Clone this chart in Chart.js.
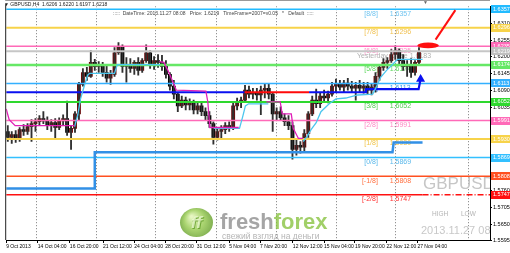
<!DOCTYPE html>
<html>
<head>
<meta charset="utf-8">
<script src="https://cdn.jsdelivr.net/npm/chart.js@4.4.0/dist/chart.umd.min.js"></script>
<style>
  html, body { margin: 0; padding: 0; background: #fff; }
  canvas { display: block; }
</style>
</head>
<body>
<canvas id="chart" width="510" height="253"></canvas>
<script>
// GBPUSD candles (one slot = 2 H4 bars)
const opens = [
  1.5955,1.5935,1.5945,1.5929,1.5961,1.5955,1.5971,1.5981,1.5987,1.5997,
  1.5990,1.5974,1.5984,1.5968,1.5990,1.5997,1.5952,1.5965,1.6013,1.6110,
  1.6149,1.6136,1.6182,1.6169,1.6175,1.6149,1.6130,1.6143,1.6214,1.6234,
  1.6169,1.6175,1.6162,1.6182,1.6156,1.6188,1.6214,1.6175,1.6188,1.6182,
  1.6169,1.6143,1.6104,1.6078,1.6039,1.6058,1.6042,1.6052,1.6026,1.6039,
  1.6020,1.6007,1.5981,1.5935,1.5955,1.5961,1.5974,1.5968,1.6039,1.6052,
  1.6058,1.6091,1.6078,1.6084,1.6075,1.6091,1.6097,1.6078,1.6013,1.6020,
  1.6000,1.5987,1.5974,1.5896,1.5909,1.5903,1.5948,1.6013,1.6058,1.6046,
  1.6071,1.6065,1.6078,1.6104,1.6110,1.6101,1.6114,1.6104,1.6097,1.6107,
  1.6097,1.6104,1.6091,1.6101,1.6136,1.6166,1.6182,1.6188,1.6208,1.6221,
  1.6188,1.6169,1.6175,1.6149,1.6182
];
const highs = [
  1.5974,1.5955,1.5958,1.5968,1.5978,1.5981,1.5994,1.5997,1.6007,1.6020,
  1.6003,1.5994,1.5997,1.6000,1.6010,1.6055,1.5974,1.6020,1.6117,1.6162,
  1.6166,1.6221,1.6192,1.6185,1.6182,1.6169,1.6156,1.6231,1.6247,1.6240,
  1.6198,1.6195,1.6188,1.6198,1.6195,1.6240,1.6221,1.6201,1.6208,1.6205,
  1.6188,1.6149,1.6123,1.6084,1.6071,1.6068,1.6062,1.6058,1.6049,1.6049,
  1.6033,1.6020,1.5987,1.5968,1.5974,1.5984,1.5987,1.6052,1.6065,1.6068,
  1.6107,1.6104,1.6097,1.6097,1.6104,1.6110,1.6110,1.6084,1.6033,1.6036,
  1.6013,1.6007,1.5987,1.5929,1.5922,1.5961,1.6020,1.6071,1.6094,1.6084,
  1.6091,1.6088,1.6117,1.6127,1.6123,1.6123,1.6130,1.6120,1.6117,1.6123,
  1.6117,1.6117,1.6110,1.6149,1.6175,1.6195,1.6198,1.6224,1.6237,1.6227,
  1.6208,1.6188,1.6195,1.6188,1.6231
];
const lows = [
  1.5922,1.5916,1.5919,1.5922,1.5942,1.5945,1.5922,1.5955,1.5974,1.5981,
  1.5961,1.5955,1.5932,1.5961,1.5974,1.5942,1.5896,1.5952,1.5994,1.6104,
  1.6123,1.6133,1.6156,1.6149,1.6136,1.6117,1.6110,1.6136,1.6208,1.6149,
  1.6117,1.6149,1.6143,1.6140,1.6149,1.6182,1.6162,1.6159,1.6166,1.6156,
  1.6130,1.6091,1.6062,1.6020,1.6033,1.6026,1.6026,1.6013,1.6013,1.6007,
  1.5994,1.5968,1.5913,1.5926,1.5932,1.5948,1.5955,1.5961,1.6026,1.6033,
  1.6052,1.6065,1.6062,1.6058,1.6010,1.6065,1.6062,1.5955,1.5994,1.5994,
  1.5974,1.5961,1.5864,1.5877,1.5884,1.5890,1.5935,1.6007,1.6033,1.6033,
  1.6052,1.6049,1.6071,1.6084,1.6091,1.6084,1.6091,1.6084,1.6058,1.6084,
  1.6081,1.6078,1.6075,1.6084,1.6123,1.6156,1.6162,1.6182,1.6192,1.6175,
  1.6156,1.6136,1.6133,1.6140,1.6175
];
const closes = [
  1.5935,1.5945,1.5929,1.5961,1.5955,1.5971,1.5981,1.5987,1.5997,1.5990,
  1.5974,1.5984,1.5968,1.5990,1.5997,1.5952,1.5965,1.6013,1.6110,1.6149,
  1.6136,1.6182,1.6169,1.6175,1.6149,1.6130,1.6143,1.6214,1.6234,1.6169,
  1.6175,1.6162,1.6182,1.6156,1.6188,1.6214,1.6175,1.6188,1.6182,1.6169,
  1.6143,1.6104,1.6078,1.6039,1.6058,1.6042,1.6052,1.6026,1.6039,1.6020,
  1.6007,1.5981,1.5935,1.5955,1.5961,1.5974,1.5968,1.6039,1.6052,1.6058,
  1.6091,1.6078,1.6084,1.6075,1.6091,1.6097,1.6078,1.6013,1.6020,1.6000,
  1.5987,1.5974,1.5896,1.5909,1.5903,1.5948,1.6013,1.6058,1.6046,1.6071,
  1.6065,1.6078,1.6104,1.6110,1.6101,1.6114,1.6104,1.6097,1.6107,1.6097,
  1.6104,1.6091,1.6101,1.6136,1.6166,1.6182,1.6188,1.6208,1.6221,1.6188,
  1.6169,1.6175,1.6149,1.6182,1.6218
];

// Murrey math levels
const levelNames = ['[8/8]','[7/8]','[6/8]','[5/8]','[4/8]','[3/8]','[2/8]','[1/8]','[0/8]','[-1/8]','[-2/8]'];
const levelValues = [1.6357,1.6296,1.6235,1.6174,1.6113,1.6052,1.5991,1.5930,1.5869,1.5808,1.5747];
const bidPrice = 1.6219;
const yesterdayClose = 1.6183;

// trailing stop lines, [slot, price] corners
const magentaStops = [
  [[-0.4,1.6029],[0.35,1.5994],[1.86,1.5974],[16.9,1.5974]],
  [[38.3,1.6185],[39.5,1.6182],[40.5,1.6156],[41.6,1.6123],[42.6,1.6091],[50.1,1.6088],[50.6,1.6052],[51.1,1.5968],[58.4,1.5968]],
  [[65.4,1.6052],[68.9,1.6052],[69.4,1.6013],[71.7,1.6013],[72.2,1.5965],[73.5,1.5932],[74.7,1.5932]]
];
const cyanStops = [
  [[16.9,1.5971],[17.7,1.6010],[18.4,1.6062],[19.4,1.6107],[20.2,1.6140],[20.7,1.6146],[27.0,1.6146],[27.7,1.6175],[38.5,1.6175]],
  [[52.1,1.5965],[58.6,1.5965],[59.4,1.6003],[60.1,1.6039],[60.9,1.6046],[65.9,1.6046]],
  [[74.7,1.5922],[75.7,1.5939],[76.7,1.5961],[78.0,1.5984],[79.2,1.6020],[81.3,1.6046],[83.0,1.6062],[85.5,1.6065],
   [88.5,1.6075],[92.3,1.6078],[93.3,1.6104],[94.3,1.6133],[95.8,1.6156],[97.3,1.6175],[98.6,1.6192],[104.9,1.6192]]
];
const pivotLine = [[-0.4,1.6084],[59.9,1.6084],[76.2,1.6084],[90.6,1.6084],[90.6,1.6094],[103.9,1.6094],[104.4,1.6127]];
const supportStep = [[-0.4,1.5767],[22.0,1.5767],[22.0,1.5887],[97.3,1.5887],[97.6,1.5919],[104.9,1.5919]];
const arrowLine = [[108.2,1.6257],[113.2,1.6354]];
const markEllipse = [106.3, 1.6238];

// axes
const priceTicks = [1.5595,1.5650,1.5705,1.5760,1.5815,1.5870,1.5925,1.5980,1.6035,1.6090,1.6145,1.6200,1.6255,1.6310];
const timeTicks = [-0.4,7.6,15.7,24.1,32,39.8,47.8,56,63.8,72.1,80,87.8,95.8,103.6];
const timeLabels = ['9 Oct 2013','14 Oct 04:00','16 Oct 20:00','21 Oct 12:00','24 Oct 04:00','28 Oct 20:00',
  '31 Oct 12:00','5 Nov 04:00','7 Nov 20:00','12 Nov 12:00','15 Nov 04:00','19 Nov 20:00','22 Nov 12:00','27 Nov 04:00'];
const weekLines = [7.1, 22.2, 37.3, 52.6, 67.9, 83, 98, 116.4];

const X_MIN = -0.4, X_MAX = 121.96, LAST = 104.9;
const FONT = '"Liberation Sans", Arial, sans-serif';

const lineColors = ['#22bbff','#f7d34a','#ff6ab8','#66e866','#33b0ff','#2ed82e','#ff6ab8','#f7d34a','#33c0ff','#ff5020','#ff1010'];
const textColors = ['#70c4f0','#f0c050','#ff90c8','#60d860','#3a9ae8','#50cc50','#ff88c4','#f0c448','#5ab8ea','#ff7040','#ff3030'];
const lineWidths = [1.5,2,1.5,2.5,1.5,2,1.5,2,1.5,1.5,1.5];

const pts = arr => arr.map(p => ({x: p[0], y: p[1]}));

const datasets = [];

// indicator lines on top
magentaStops.forEach(seg => datasets.push({
  type: 'line', data: pts(seg), borderColor: '#e020b8', borderWidth: 1.3, pointRadius: 0, tension: 0, order: 1
}));
cyanStops.forEach(seg => datasets.push({
  type: 'line', data: pts(seg), borderColor: '#4cc6ee', borderWidth: 1.3, pointRadius: 0, tension: 0, order: 1
}));
datasets.push({
  type: 'line', data: pts(pivotLine), borderWidth: 2.2, tension: 0, order: 2,
  borderColor: '#0a10f0',
  segment: { borderColor: c => c.p0DataIndex === 1 ? '#ff0a0a' : '#0a10f0' },
  pointStyle: 'triangle', backgroundColor: '#0a10f0', borderJoinStyle: 'miter',
  pointRadius: c => c.dataIndex === pivotLine.length - 1 ? 3 : 0
});
datasets.push({
  type: 'line', data: pts(supportStep), borderColor: '#3290e6', borderWidth: 2.5, pointRadius: 0, tension: 0, order: 2
});
datasets.push({
  type: 'line', data: pts(arrowLine), borderColor: '#ff1010', borderWidth: 2, pointRadius: 0, order: 1
});

// levels
levelValues.forEach((v, i) => {
  const last = i === levelValues.length - 1;
  datasets.push({
    type: 'line',
    data: last ? [{x: X_MIN, y: v}, {x: LAST, y: v}, {x: X_MAX, y: v}] : [{x: X_MIN, y: v}, {x: X_MAX, y: v}],
    borderColor: lineColors[i], borderWidth: lineWidths[i], pointRadius: 0, order: 3,
    segment: last ? { borderDash: c => c.p0DataIndex === 1 ? [6, 2, 1, 2] : undefined } : undefined
  });
});
datasets.push({
  type: 'line', data: [{x: X_MIN, y: bidPrice}, {x: X_MAX, y: bidPrice}],
  borderColor: '#c6c6c6', borderWidth: 2, pointRadius: 0, order: 3
});

// candles below everything
datasets.push({
  type: 'bar', order: 4, grouped: false,
  data: opens.map((o, i) => ({x: i, y: [lows[i], highs[i]]})),
  backgroundColor: '#303030', barThickness: 1.2, borderWidth: 0
});
datasets.push({
  type: 'bar', order: 4, grouped: false, minBarLength: 1.5,
  data: opens.map((o, i) => ({x: i, y: [o, closes[i]]})),
  backgroundColor: c => closes[c.dataIndex] >= opens[c.dataIndex] ? '#6a0d0d' : '#000000',
  barThickness: 3.2, borderWidth: 0
});

function drawWatermark(ctx) {
  ctx.save();
  ctx.globalAlpha = 0.78;
  const cx = 196.5, cy = 222.5;
  const g = ctx.createRadialGradient(cx - 5, cy - 6, 1, cx, cy, 17);
  g.addColorStop(0, '#dff3b0');
  g.addColorStop(0.55, '#92c848');
  g.addColorStop(1, '#5b981f');
  ctx.fillStyle = g;
  ctx.beginPath();
  ctx.ellipse(cx, cy, 16.5, 14.5, 0, 0, Math.PI * 2);
  ctx.fill();
  ctx.font = 'italic bold 17px ' + FONT;
  ctx.textAlign = 'center';
  ctx.textBaseline = 'middle';
  ctx.fillStyle = '#5e9a24';
  ctx.fillText('ff', cx + 0.8, cy + 1.8);
  ctx.fillStyle = '#eaf8cf';
  ctx.fillText('ff', cx, cy + 1);
  ctx.font = 'bold 22px ' + FONT;
  ctx.textAlign = 'left';
  ctx.textBaseline = 'alphabetic';
  ctx.fillStyle = '#8c8c8c';
  ctx.fillText('fresh', 220, 229);
  const w = ctx.measureText('fresh').width;
  ctx.fillStyle = '#86c23e';
  ctx.fillText('forex', 220 + w, 229);
  ctx.font = '8.5px ' + FONT;
  ctx.fillStyle = '#a0a0a0';
  ctx.fillText('свежий взгляд на деньги', 222, 239);
  ctx.restore();
}

const mt4Plugin = {
  id: 'mt4',
  beforeDraw(chart) {
    const ctx = chart.ctx;
    ctx.save();
    ctx.fillStyle = '#fff';
    ctx.fillRect(0, 0, chart.width, chart.height);
    ctx.restore();
  },
  beforeDatasetsDraw(chart) {
    const {ctx, chartArea: a, scales: {x, y}} = chart;
    ctx.save();
    ctx.beginPath();
    ctx.rect(a.left, a.top, a.right - a.left, a.bottom - a.top);
    ctx.clip();

    // weekly separators
    ctx.strokeStyle = '#7a7a7a';
    ctx.lineWidth = 1;
    ctx.setLineDash([1, 2]);
    weekLines.forEach(u => {
      const px = Math.round(x.getPixelForValue(u)) + 0.5;
      ctx.beginPath();
      ctx.moveTo(px, a.top);
      ctx.lineTo(px, a.bottom);
      ctx.stroke();
    });
    ctx.setLineDash([]);

    drawWatermark(ctx);

    // symbol / time stamp block
    ctx.fillStyle = '#c6c6c6';
    ctx.textBaseline = 'middle';
    ctx.textAlign = 'left';
    ctx.font = '17px ' + FONT;
    ctx.fillText('GBPUSD', 423, 184);
    ctx.font = '6.5px ' + FONT;
    ctx.fillStyle = '#b4b4b4';
    ctx.fillText('HIGH', 432, 214);
    ctx.fillText('LOW', 461, 214);
    ctx.font = '11px ' + FONT;
    ctx.fillStyle = '#c8c8c8';
    ctx.fillText('2013.11.27 08:08', 421, 231);

    // level captions
    ctx.font = '7px ' + FONT;
    const xl = x.getPixelForValue(93.6), xv = x.getPixelForValue(96.6);
    levelValues.forEach((v, i) => {
      const py = y.getPixelForValue(v) + 4.5;
      ctx.fillStyle = textColors[i];
      ctx.textAlign = 'right';
      ctx.fillText(levelNames[i], xl, py);
      ctx.textAlign = 'left';
      ctx.fillText(v.toFixed(4), xv, py);
    });
    ctx.fillStyle = '#b0b0b0';
    ctx.textAlign = 'left';
    ctx.fillText('Yesterday Close ' + yesterdayClose.toFixed(4), 357, y.getPixelForValue(bidPrice) + 4.5);
    ctx.restore();
  },
  afterDatasetsDraw(chart) {
    const {ctx, chartArea: a, scales: {x, y}} = chart;
    ctx.save();
    // red highlight
    ctx.fillStyle = '#ff1010';
    ctx.beginPath();
    ctx.ellipse(x.getPixelForValue(markEllipse[0]), y.getPixelForValue(markEllipse[1]), 10.8, 2.8, 0, 0, Math.PI * 2);
    ctx.fill();

    // frame
    ctx.strokeStyle = '#222';
    ctx.lineWidth = 1;
    ctx.beginPath();
    ctx.moveTo(a.left - 0.5, a.top - 2);
    ctx.lineTo(a.left - 0.5, a.bottom);
    ctx.stroke();
    ctx.strokeStyle = '#9a9a9a';
    ctx.beginPath();
    ctx.moveTo(a.left - 1, 0.5);
    ctx.lineTo(a.right, 0.5);
    ctx.stroke();

    // header texts
    ctx.textBaseline = 'middle';
    ctx.textAlign = 'left';
    ctx.font = '5px ' + FONT;
    ctx.fillStyle = '#222';
    ctx.fillText('\u25BC GBPUSD,H4  1.6206 1.6220 1.6197 1.6218', 4, 4.5);
    ctx.fillStyle = '#444';
    ctx.fillText(':::::  DateTime: 2013.11.27 08:08   Price: 1.6219   TimeFrame=2007=v0.05   *   Default  :::::', 113, 14);
    ctx.fillStyle = '#666';
    ctx.fillText('\u25BC', 423, 3);
    ctx.restore();
  },
  afterDraw(chart) {
    const {ctx, chartArea: a, scales: {y}} = chart;
    ctx.save();
    ctx.font = '5.5px ' + FONT;
    ctx.textBaseline = 'middle';
    ctx.textAlign = 'left';
    const boxes = levelValues.map((v, i) => [v, lineColors[i]]);
    boxes.push([bidPrice, '#c0c0c0']);
    boxes.forEach(([v, c]) => {
      const py = y.getPixelForValue(v);
      ctx.fillStyle = c;
      ctx.fillRect(a.right + 1, Math.round(py) - 4, 19, 8);
      ctx.fillStyle = '#fff';
      ctx.fillText(v.toFixed(4), a.right + 3, py);
    });
    ctx.restore();
  }
};

new Chart(document.getElementById('chart'), {
  type: 'bar',
  data: { datasets },
  options: {
    responsive: false,
    animation: false,
    devicePixelRatio: 1,
    layout: { padding: { left: 3, top: 3, right: 0, bottom: 0 } },
    plugins: { legend: { display: false }, tooltip: { enabled: false } },
    scales: {
      x: {
        type: 'linear', min: X_MIN, max: X_MAX, offset: false,
        grid: { offset: false, drawOnChartArea: false, drawTicks: true, tickLength: 3, color: '#000' },
        border: { display: true, color: '#000', width: 1 },
        ticks: {
          autoSkip: false, maxRotation: 0, minRotation: 0, align: 'start', padding: 1,
          color: '#000', font: { size: 5, family: FONT },
          callback: (v, i) => timeLabels[i]
        },
        afterBuildTicks: s => { s.ticks = timeTicks.map(v => ({value: v})); },
        afterFit: s => { s.height = 13; s.paddingLeft = 0; s.paddingRight = 0; }
      },
      y: {
        type: 'linear', position: 'right', min: 1.5598, max: 1.6367,
        grid: { drawOnChartArea: false, drawTicks: true, tickLength: 2, color: '#000' },
        border: { display: true, color: '#000', width: 1 },
        ticks: {
          autoSkip: false, padding: 1, color: '#000', font: { size: 5.5, family: FONT },
          callback: v => Number(v).toFixed(4)
        },
        afterBuildTicks: s => { s.ticks = priceTicks.map(v => ({value: v})); },
        afterFit: s => { s.width = 20; s.paddingTop = 0; s.paddingBottom = 0; }
      }
    }
  },
  plugins: [mt4Plugin]
});
</script>
</body>
</html>
